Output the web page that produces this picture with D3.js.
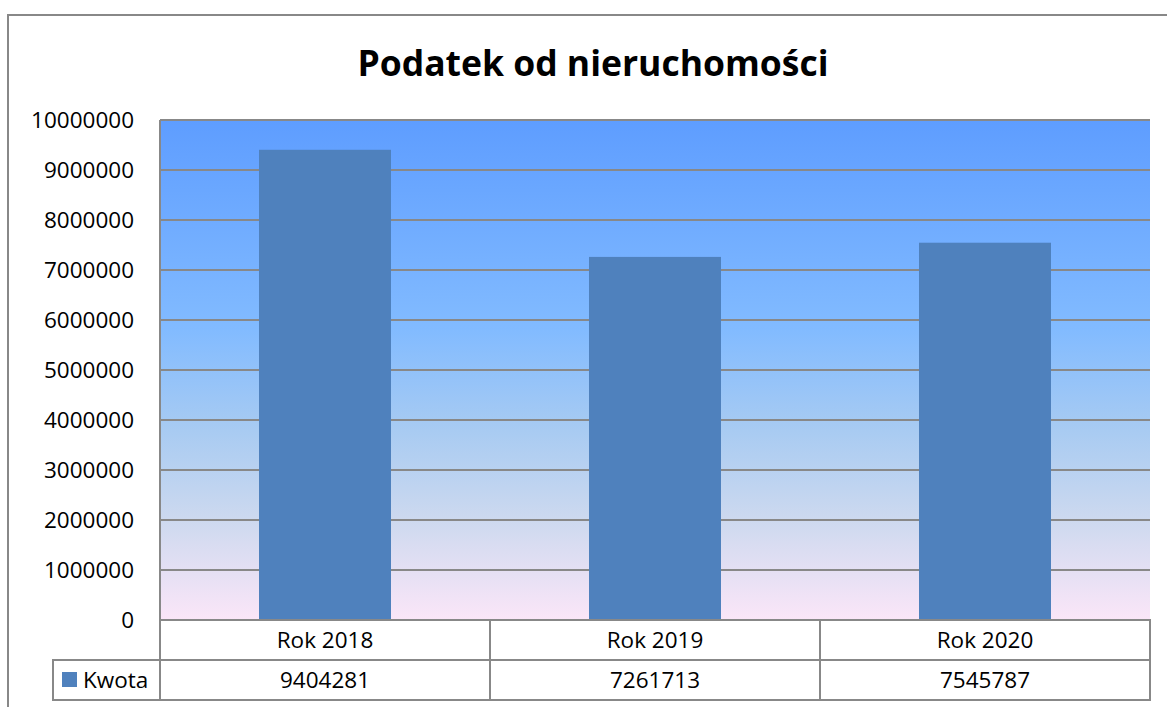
<!DOCTYPE html>
<meta charset="utf-8">
<html>
<head>
<script src="https://cdn.jsdelivr.net/npm/d3@7"></script>
<style>
  body { margin: 0; background: #fff; }
  text { font-family: "Open Sans", "Noto Sans", sans-serif; fill: #000; }
</style>
</head>
<body>
<script>
  // chart data
  var categories = ["Rok 2018", "Rok 2019", "Rok 2020"];
  var values = [9404281, 7261713, 7545787];
  var seriesName = "Kwota";
  var yTicks = [0, 1000000, 2000000, 3000000, 4000000, 5000000, 6000000, 7000000, 8000000, 9000000, 10000000];
  var title = "Podatek od nieruchomości";

  var width = 1167, height = 707;
  var plot = { left: 160, right: 1150, top: 120, bottom: 620 };
  var rowH = 40;
  var fs = "22.5px";

  var svg = d3.select("body").append("svg")
      .attr("width", width)
      .attr("height", height);

  // outer chart frame (runs off the right and bottom edge)
  svg.append("rect")
      .attr("x", 8).attr("y", 15)
      .attr("width", width + 20).attr("height", height + 20)
      .attr("fill", "#fff")
      .attr("stroke", "#888").attr("stroke-width", 2);

  // background gradient of the plot area
  var grad = svg.append("defs").append("linearGradient")
      .attr("id", "bg").attr("x1", 0).attr("y1", 0).attr("x2", 0).attr("y2", 1);
  [[0, "#5e9dff"], [0.42, "#82bbff"], [0.62, "#a8cbf2"], [0.8, "#cdd9ef"], [1, "#fbe6f8"]]
    .forEach(function (s) {
      grad.append("stop").attr("offset", s[0]).attr("stop-color", s[1]);
    });

  var x = d3.scaleBand()
      .domain(categories)
      .range([plot.left, plot.right])
      .paddingInner(0.6)
      .paddingOuter(0.3);

  var y = d3.scaleLinear()
      .domain([0, 10000000])
      .range([plot.bottom, plot.top]);

  svg.append("rect")
      .attr("x", plot.left).attr("y", plot.top)
      .attr("width", plot.right - plot.left).attr("height", plot.bottom - plot.top)
      .attr("fill", "url(#bg)");

  // horizontal gridlines
  svg.append("g").selectAll("line")
      .data(yTicks)
      .enter().append("line")
      .attr("x1", plot.left).attr("x2", plot.right)
      .attr("y1", function (d) { return y(d); })
      .attr("y2", function (d) { return y(d); })
      .attr("stroke", "#888").attr("stroke-width", 2);

  // bars
  svg.append("g").selectAll("rect")
      .data(values)
      .enter().append("rect")
      .attr("x", function (d, i) { return x(categories[i]); })
      .attr("width", x.bandwidth())
      .attr("y", function (d) { return y(d); })
      .attr("height", function (d) { return y(0) - y(d); })
      .attr("fill", "#4f81bd");

  // plot border (left side)
  svg.append("line")
      .attr("x1", plot.left).attr("x2", plot.left)
      .attr("y1", plot.top).attr("y2", plot.bottom + 2 * rowH)
      .attr("stroke", "#888").attr("stroke-width", 2);

  // y axis labels
  svg.append("g").selectAll("text")
      .data(yTicks)
      .enter().append("text")
      .attr("x", 134)
      .attr("y", function (d) { return y(d); })
      .attr("dy", "0.35em")
      .attr("text-anchor", "end")
      .style("font-size", fs)
      .text(function (d) { return d; });

  // data table under the plot
  var table = svg.append("g");
  var cellW = (plot.right - plot.left) / categories.length;

  categories.forEach(function (c, i) {
    var cx = plot.left + i * cellW;
    table.append("rect")
        .attr("x", cx).attr("y", plot.bottom)
        .attr("width", cellW).attr("height", rowH)
        .attr("fill", "#fff").attr("stroke", "#888").attr("stroke-width", 2);
    table.append("rect")
        .attr("x", cx).attr("y", plot.bottom + rowH)
        .attr("width", cellW).attr("height", rowH)
        .attr("fill", "#fff").attr("stroke", "#888").attr("stroke-width", 2);
    table.append("text")
        .attr("x", cx + cellW / 2).attr("y", plot.bottom + rowH / 2)
        .attr("dy", "0.35em").attr("text-anchor", "middle")
        .style("font-size", fs)
        .text(c);
    table.append("text")
        .attr("x", cx + cellW / 2).attr("y", plot.bottom + rowH * 1.5)
        .attr("dy", "0.35em").attr("text-anchor", "middle")
        .style("font-size", fs)
        .text(values[i]);
  });

  // legend cell
  table.append("rect")
      .attr("x", 53).attr("y", plot.bottom + rowH)
      .attr("width", plot.left - 53).attr("height", rowH)
      .attr("fill", "#fff").attr("stroke", "#888").attr("stroke-width", 2);
  table.append("rect")
      .attr("x", 62).attr("y", plot.bottom + rowH * 1.5 - 8)
      .attr("width", 15).attr("height", 15)
      .attr("fill", "#4f81bd");
  table.append("text")
      .attr("x", 83).attr("y", plot.bottom + rowH * 1.5)
      .attr("dy", "0.35em")
      .style("font-size", fs)
      .text(seriesName);

  // title
  svg.append("text")
      .attr("x", 593).attr("y", 64)
      .attr("dy", "0.35em")
      .attr("text-anchor", "middle")
      .style("font-size", "35.5px")
      .style("font-weight", "bold")
      .text(title);
</script>
</body>
</html>
